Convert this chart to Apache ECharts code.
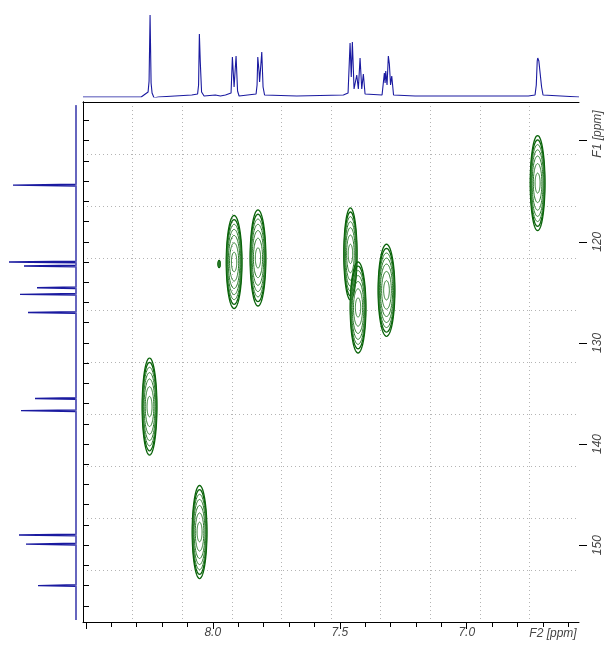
<!DOCTYPE html>
<html>
<head>
<meta charset="utf-8">
<script src="https://cdn.jsdelivr.net/npm/echarts@6/dist/echarts.min.js"></script>
<style>html,body{margin:0;padding:0;background:#fff}#c{width:610px;height:646px}</style>
</head>
<body>
<div id="c"></div>
<script>
// ---- axis ranges (ppm) ----
const f2Min = 6.558, f2Max = 8.511;
const f1Min = 106.18, f1Max = 157.6;
const f2MinorTicks = [6.6,6.7,6.8,6.9,7.0,7.1,7.2,7.3,7.4,7.5,7.6,7.7,7.8,7.9,8.0,8.1,8.2,8.3,8.4,8.5];
const f2MajorTicks = [7.0,7.5,8.0,8.5];
const f2Labels = [7.0,7.5,8.0];
const f1MinorTicks = [108,110,112,114,116,118,120,122,124,126,128,130,132,134,136,138,140,142,144,146,148,150,152,154,156];
const f1MajorTicks = [110,120,130,140,150];
const f1Labels = [120,130,140,150];

// ---- 2D cross peaks: F2 (1H ppm), F1 (13C ppm), half-width F2, half-height F1 ----
const peakF2 = [6.721, 7.916, 7.822, 7.458, 7.428, 7.316, 8.249, 8.052, 7.975];
const peakF1 = [114.2, 122.0, 121.6, 121.2, 126.5, 124.8, 136.3, 148.7, 122.2];
const peakHalfW = [0.029, 0.031, 0.031, 0.026, 0.031, 0.033, 0.029, 0.029, 0.004];
const peakHalfH = [4.7, 4.6, 4.75, 4.55, 4.5, 4.55, 4.8, 4.6, 0.35];

// ---- 1H projection (top): vertices ----
const hPpm = [8.511, 8.282, 8.2795, 8.277, 8.2547, 8.2508, 8.2469, 8.2429, 8.2390, 8.2311, 8.215,
  8.0827, 8.0598, 8.0559, 8.0528, 8.0492, 8.0441, 8.0343, 7.99, 7.97, 7.95,
  7.9280, 7.9228, 7.9161, 7.9083, 7.9024, 7.8965,
  7.8295, 7.8256, 7.8228, 7.8177, 7.8157, 7.8071, 7.8020, 7.7961,
  7.6693, 7.4858, 7.4673, 7.4594, 7.4547, 7.4504, 7.4437, 7.4331, 7.4268, 7.4201, 7.4134, 7.4071, 7.4004,
  7.3335, 7.3244, 7.3215, 7.3189, 7.3138, 7.3087, 7.3047, 7.3000, 7.2953, 7.2882,
  7.2035, 6.7575, 6.7311, 6.7262, 6.7225, 6.7205, 6.7161, 6.7114, 6.7095, 6.7053, 6.6996, 6.558];
const hInt = [0, 0, 2, 0, 5, 16, 82, 14, 4, -1, 0,
  2, 3, 12, 63, 35, 5, 1, 2, 1, 2,
  4, 40, 10, 41, 6, 1,
  3, 12, 40, 25, 15, 45, 10, 2,
  1, 2, 4, 54, 20, 55, 8, 22, 8, 39, 8, 23, 3,
  2, 24, 14, 26, 12, 41, 33, 12, 21, 2,
  1, 1, 2, 12, 36, 39, 36, 38, 34, 10, 2, 0];

// ---- 13C projection (left): peak positions and heights ----
const cPpm = [109.25, 111.42, 112.9, 114.4, 118.64, 122.0, 122.4, 123.49, 124.55, 125.2, 127.0, 128.04, 132.0,
  135.5, 136.7, 141.99, 147.82, 149.0, 149.9, 154.0, 156.24];
const cInt = [2, 2, 2, 63, 2, 67, 52, 2, 39, 56, 48, 2, 2,
  41, 55, 2, 2, 57, 50, 38, 2];
const cStart = 106.5, cEnd = 157.4;

// ---- build tables for the library ----
const contourData = peakF2.map((x, i) => [x, peakF1[i], peakHalfW[i], peakHalfH[i]]);
const topData = hPpm.map((p, i) => [p, hInt[i]]);
const leftData = [[0, cStart]];
cPpm.forEach((p, i) => { leftData.push([0, p - 0.08], [cInt[i], p], [0, p + 0.08]); });
leftData.push([0, cEnd]);
const leftBase = [[0, cStart], [0, cEnd]];

const levels = [[1, 1], [0.96, 0.91], [0.91, 0.81], [0.84, 0.7], [0.74, 0.57], [0.58, 0.41], [0.34, 0.21]];
function renderContour(params, api) {
  const c = api.coord([api.value(0), api.value(1)]);
  const s = api.size([api.value(2), api.value(3)]);
  const children = levels.map(([fx, fy], j) => {
    const pts = [];
    for (let k = 0; k < 72; k++) {
      const t = k / 72 * Math.PI * 2;
      pts.push([c[0] + s[0] * fx * Math.cos(t), c[1] + s[1] * fy * Math.sin(t)]);
    }
    return { type: 'polygon', shape: { points: pts },
      style: { fill: 'none', stroke: j < 2 ? '#0a640a' : '#2a7a2a', lineWidth: j < 2 ? 1.3 : 1 } };
  });
  return { type: 'group', children };
}

const labelFont = { fontFamily: 'Liberation Sans', fontStyle: 'italic', fontSize: 12, color: '#444' };
const chart = echarts.init(document.getElementById('c'), null, { renderer: 'canvas' });
chart.setOption({
  animation: false,
  grid: [
    { left: 83, top: 102, width: 496, height: 520 },
    { left: 83, top: 15, width: 496, height: 82 },
    { left: 0, top: 102, width: 76, height: 520 }
  ],
  xAxis: [
    { gridIndex: 0, type: 'value', min: f2Min, max: f2Max, inverse: true, position: 'bottom',
      axisLine: { show: true, lineStyle: { color: '#000', width: 1 } },
      axisTick: { show: true, length: 5, customValues: f2MinorTicks, lineStyle: { color: '#000' } },
      axisLabel: { show: false }, splitLine: { show: false } },
    { gridIndex: 0, type: 'value', min: f2Min, max: f2Max, inverse: true, position: 'bottom',
      axisLine: { show: false },
      axisTick: { show: true, length: 7, customValues: f2MajorTicks, lineStyle: { color: '#000' } },
      axisLabel: Object.assign({ show: true, margin: 5, customValues: f2Labels, formatter: v => v.toFixed(1) }, labelFont),
      splitLine: { show: false } },
    { gridIndex: 0, type: 'value', min: 0, max: 10, interval: 1, position: 'top',
      axisLine: { show: true, lineStyle: { color: '#000', width: 1 } },
      axisTick: { show: false }, axisLabel: { show: false },
      splitLine: { show: true, showMinLine: false, showMaxLine: false, lineStyle: { color: '#b4b4b4', type: [1, 3], width: 1 } } },
    { gridIndex: 1, type: 'value', min: f2Min, max: f2Max, inverse: true, show: false },
    { gridIndex: 2, type: 'value', min: 0, max: 76, inverse: true, show: false }
  ],
  yAxis: [
    { gridIndex: 0, type: 'value', min: f1Min, max: f1Max, inverse: true, position: 'right',
      axisLine: { show: true, lineStyle: { color: '#000', width: 1 } },
      axisTick: { show: true, length: 6, customValues: f1MinorTicks, lineStyle: { color: '#000' } },
      axisLabel: { show: false }, splitLine: { show: false } },
    { gridIndex: 0, type: 'value', min: f1Min, max: f1Max, inverse: true, position: 'right',
      axisLine: { show: false },
      axisTick: { show: true, length: 8, customValues: f1MajorTicks, lineStyle: { color: '#000' } },
      axisLabel: Object.assign({ show: true, margin: 13, rotate: 90, customValues: f1Labels }, labelFont),
      splitLine: { show: false } },
    { gridIndex: 0, type: 'value', min: 0, max: 10, interval: 1, position: 'left',
      axisLine: { show: true, lineStyle: { color: '#000', width: 1 } },
      axisTick: { show: false }, axisLabel: { show: false },
      splitLine: { show: true, showMinLine: false, showMaxLine: false, lineStyle: { color: '#b4b4b4', type: [1, 3], width: 1 } } },
    { gridIndex: 1, type: 'value', min: 0, max: 82, show: false },
    { gridIndex: 2, type: 'value', min: f1Min, max: f1Max, inverse: true, show: false }
  ],
  graphic: [
    { type: 'text', x: 598, y: 134, rotation: Math.PI / 2,
      style: { text: 'F1 [ppm]', font: 'italic 12px "Liberation Sans"', fill: '#444', textAlign: 'center', textVerticalAlign: 'middle' } },
    { type: 'text', x: 553, y: 634,
      style: { text: 'F2 [ppm]', font: 'italic 12px "Liberation Sans"', fill: '#444', textAlign: 'center', textVerticalAlign: 'middle' } }
  ],
  series: [
    { type: 'custom', xAxisIndex: 0, yAxisIndex: 0, data: contourData, renderItem: renderContour, clip: true, z: 5 },
    { type: 'line', xAxisIndex: 3, yAxisIndex: 3, data: topData, showSymbol: false, symbol: 'none',
      lineStyle: { color: '#1a1aa0', width: 1.1 }, z: 3 },
    { type: 'line', xAxisIndex: 4, yAxisIndex: 4, data: leftData, showSymbol: false, symbol: 'none',
      lineStyle: { color: '#1a1aa0', width: 1.4 }, z: 3 },
    { type: 'line', xAxisIndex: 4, yAxisIndex: 4, data: leftBase, showSymbol: false, symbol: 'none',
      lineStyle: { color: '#6a6ac0', width: 1.4 }, z: 4 }
  ]
});
</script>
</body>
</html>
